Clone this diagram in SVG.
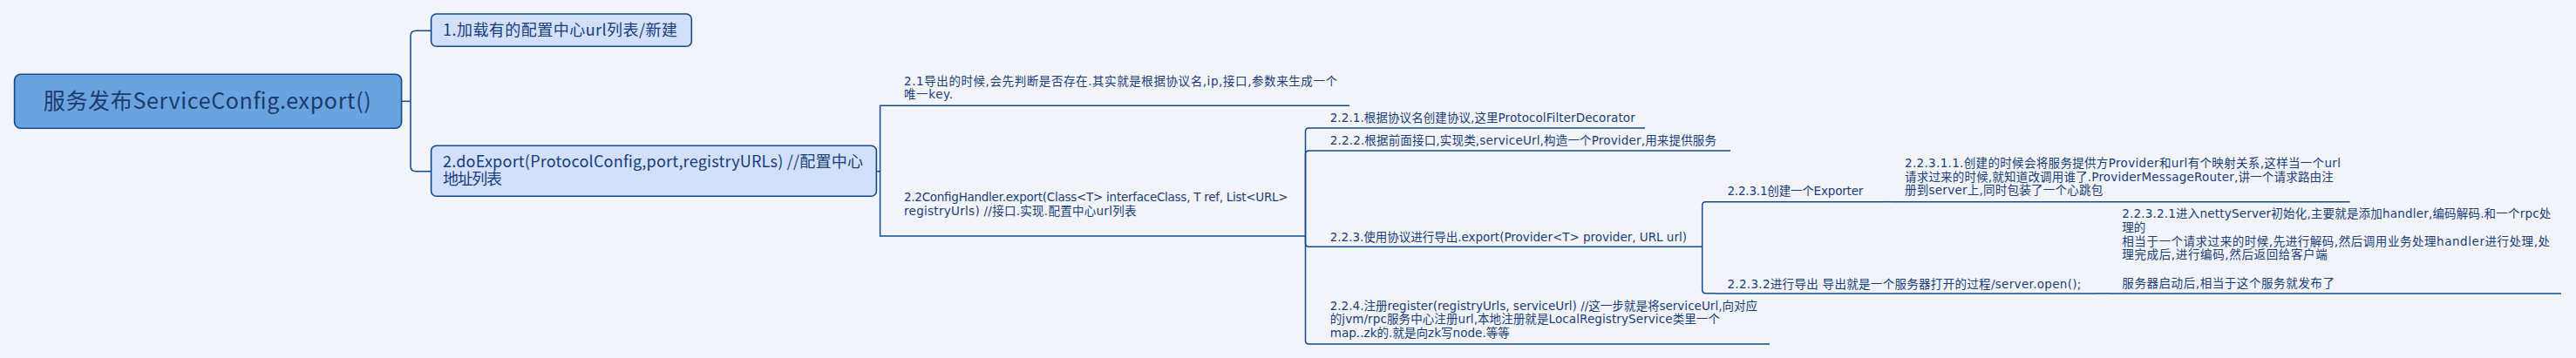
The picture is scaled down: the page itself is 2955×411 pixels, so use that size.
<svg xmlns="http://www.w3.org/2000/svg" width="2955" height="411" viewBox="0 0 2955 411">
<style>
.bg{fill:#f3f4f9}
.root{fill:#69a3e0;stroke:#124a8c;stroke-width:1.6}
.box{fill:#d3e0fc;stroke:#124a8c;stroke-width:1.6}
.ul{stroke:#124a8c;stroke-width:1.5;fill:none}
.con{stroke:#124a8c;stroke-width:1.5;fill:none}
.t0{font-family:"Noto Sans CJK SC","DejaVu Sans",sans-serif;font-size:25px;fill:#1d3a6c}
.t1{font-family:"Noto Sans CJK SC","DejaVu Sans",sans-serif;font-size:18px;fill:#173d7a}
.t2{font-family:"DejaVu Sans","Noto Sans CJK SC",sans-serif;font-size:13.5px;fill:#173d7a}
</style>
<rect class="bg" x="0" y="0" width="2955" height="411"/>
<g id="connectors">
<path class="con" d="M460.5,116.3 H471"/>
<path class="con" d="M471,116.3 V41.3 Q471,35.3 477,35.3 H494.6"/>
<path class="con" d="M471,116.3 V190.7 Q471,196.7 477,196.7 H494.6"/>
<path class="con" d="M1005.4,196.7 H1009.6 V121.3 H1025"/>
<path class="con" d="M1009.6,196.7 V271 H1025"/>
<path class="con" d="M1497.5,271 V151 Q1497.5,147 1501.5,147 H1513"/>
<path class="con" d="M1497.5,271 V177 Q1497.5,173 1501.5,173 H1513"/>
<path class="con" d="M1497.5,271 V279.3 Q1497.5,283.3 1501.5,283.3 H1513"/>
<path class="con" d="M1497.5,271 V391 Q1497.5,395 1501.5,395 H1513"/>
<path class="con" d="M1952.7,283.3 V235.7 Q1952.7,231.7 1956.7,231.7 H1968"/>
<path class="con" d="M1952.7,283.3 V332.7 Q1952.7,336.7 1956.7,336.7 H1968"/>
<path class="con" d="M2160,231.7 H2172"/>
<path class="con" d="M2405,336.9 H2420"/>
</g>
<g id="root">
<rect class="root" x="16.6" y="85.3" width="444" height="62" rx="7"/>
<text class="t0" x="49.7" y="124.5" textLength="376">服务发布ServiceConfig.export()</text>
</g>
<g id="n1">
<rect class="box" x="494.6" y="16" width="298.7" height="37.3" rx="6"/>
<text class="t1" x="508" y="41" textLength="269">1.加载有的配置中心url列表/新建</text>
</g>
<g id="n2">
<rect class="box" x="494.6" y="167.3" width="510.8" height="58" rx="6"/>
<text class="t1" x="508" y="191.5" textLength="482">2.doExport(ProtocolConfig,port,registryURLs) //配置中心</text>
<text class="t1" x="508" y="212" textLength="68">地址列表</text>
</g>
<g id="n2_1">
<text class="t2" x="1037" y="97.5" textLength="497">2.1导出的时候,会先判断是否存在.其实就是根据协议名,ip,接口,参数来生成一个</text>
<text class="t2" x="1037" y="113.3" textLength="56">唯一key.</text>
<path class="ul" d="M1025,121.3 H1548"/>
</g>
<g id="n2_2">
<text class="t2" x="1037" y="230.5" textLength="440.6">2.2ConfigHandler.export(Class&lt;T&gt; interfaceClass, T ref, List&lt;URL&gt;</text>
<text class="t2" x="1037" y="247" textLength="266.5">registryUrls) //接口.实现.配置中心url列表</text>
<path class="ul" d="M1025,271 H1497.5"/>
</g>
<g id="n2_2_1">
<text class="t2" x="1525.7" y="140" textLength="350">2.2.1.根据协议名创建协议,这里ProtocolFilterDecorator</text>
<path class="ul" d="M1513,147 H1887"/>
</g>
<g id="n2_2_2">
<text class="t2" x="1525.7" y="166" textLength="443.3">2.2.2.根据前面接口,实现类,serviceUrl,构造一个Provider,用来提供服务</text>
<path class="ul" d="M1513,173 H1985"/>
</g>
<g id="n2_2_3">
<text class="t2" x="1525.7" y="276.7" textLength="409.3">2.2.3.使用协议进行导出.export(Provider&lt;T&gt; provider, URL url)</text>
<path class="ul" d="M1513,283.3 H1952.7"/>
</g>
<g id="n2_2_4">
<text class="t2" x="1525.7" y="355.5" textLength="490.3">2.2.4.注册register(registryUrls, serviceUrl) //这一步就是将serviceUrl,向对应</text>
<text class="t2" x="1525.7" y="371" textLength="447.2">的jvm/rpc服务中心注册url,本地注册就是LocalRegistryService类里一个</text>
<text class="t2" x="1525.7" y="386.5" textLength="206.1">map..zk的.就是向zk写node.等等</text>
<path class="ul" d="M1513,395 H2030"/>
</g>
<g id="n2_2_3_1">
<text class="t2" x="1981.4" y="224" textLength="156">2.2.3.1创建一个Exporter</text>
<path class="ul" d="M1968,231.7 H2160"/>
</g>
<g id="n2_2_3_1_1">
<text class="t2" x="2185" y="192" textLength="500">2.2.3.1.1.创建的时候会将服务提供方Provider和url有个映射关系,这样当一个url</text>
<text class="t2" x="2185" y="207.5" textLength="491.8">请求过来的时候,就知道改调用谁了.ProviderMessageRouter,讲一个请求路由注</text>
<text class="t2" x="2185" y="223" textLength="227.3">册到server上,同时包装了一个心跳包</text>
<path class="ul" d="M2172,231.7 H2695.6"/>
</g>
<g id="n2_2_3_2">
<text class="t2" x="1981.4" y="330.5" textLength="406">2.2.3.2进行导出 导出就是一个服务器打开的过程/server.open();</text>
<path class="ul" d="M1968,336.9 H2405"/>
</g>
<g id="n2_2_3_2_1">
<text class="t2" x="2434.3" y="250" textLength="492">2.2.3.2.1进入nettyServer初始化,主要就是添加handler,编码解码.和一个rpc处</text>
<text class="t2" x="2434.3" y="265.8" textLength="27">理的</text>
<text class="t2" x="2434.3" y="281.6" textLength="490.7">相当于一个请求过来的时候,先进行解码,然后调用业务处理handler进行处理,处</text>
<text class="t2" x="2434.3" y="297.4" textLength="235.4">理完成后,进行编码,然后返回给客户端</text>
<text class="t2" x="2434.3" y="330" textLength="243.6">服务器启动后,相当于这个服务就发布了</text>
<path class="ul" d="M2420,336.9 H2938"/>
</g>
</svg>
